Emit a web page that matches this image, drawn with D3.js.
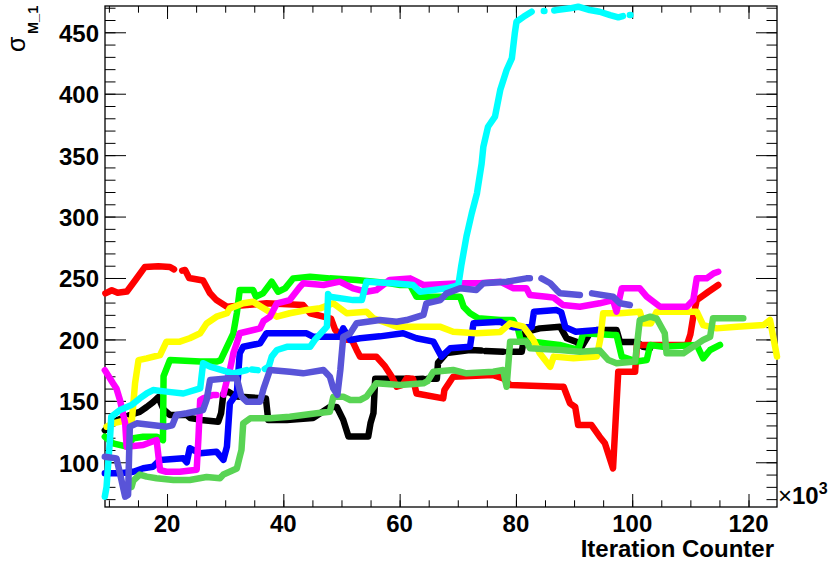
<!DOCTYPE html>
<html>
<head>
<meta charset="utf-8">
<script src="https://cdn.jsdelivr.net/npm/d3@7"></script>
<style>
  body { margin: 0; background: #ffffff; }
  text { font-family: "Liberation Sans", Arial, Helvetica, sans-serif; }
</style>
</head>
<body>
<svg id="chart" width="829" height="562"></svg>
<script>
// Axis ranges and tick values (iteration counter in units of 10^3)
const xDomain = [9.33, 124.9];
const yDomain = [63.6, 471.4];
const xMajorTicks = [20, 40, 60, 80, 100, 120];
const xMinorTicks = d3.range(10, 125, 5);
const yMajorTicks = [100, 150, 200, 250, 300, 350, 400, 450];
const yMinorTicks = d3.range(70, 471, 10);

// One trace per chain: [iteration (x10^3), sigma_M_1]; null marks a gap in the sampled points
const traceBlack = [[9.3,126],[10.2,130],[11.3,134],[13.6,138.5],[15.3,141],[16.5,145],[17.6,149],[18.5,153],[19.4,143],[20.5,138.5],[23.4,138.5],[24,136],[25.9,134.5],[28.8,133],[29.3,140],[29.7,156],[30.5,157.5],[31.4,155],[32,153.5],[37,152],[37.4,134.5],[40.6,134.5],[45.1,136],[48,145],[49.2,145],[50.3,134.5],[51.2,121],[54.6,121],[55,132],[55.5,140],[55.8,168],[58.4,168],null,[59.3,168],[61.6,168],null,[62.4,167.5],[64,168],null,[64.8,168],[66.4,168],[66.6,181],[68.1,189],[72.1,191.4],[74,191],null,[74.8,190.5],[77.8,190],null,[78.6,190],[81,190],[81.3,198],[81.6,206],[84.1,209],[87.6,210.4],[88.7,201],[90.4,198],[91.3,194],[92.7,205],[93.9,207.7],[97.3,207.7],[97.9,198],[100.8,198],[101.9,194],[103.1,193]];

const traceRed = [[9.4,237.5],[10.5,240],[11.5,238],[13.1,239],[14.5,248],[16.2,259],[18.5,259.5],[20.5,259],[21.2,257],null,[22.6,256],[23.1,256.5],[23.8,250],[26.2,248],[27.4,237.5],[28.5,232],[30.3,226.6],[33.7,228],[37.1,229.4],[43.4,228],[44.6,221.3],[46.9,218.5],[48.2,217],[48.9,208],[50.3,200],[51.8,199.5],[52.6,191.4],[53.2,186],[56,186],[57.5,178],[58.6,170],[59.5,161.5],[60.5,163],[61.2,168.3],[62.3,168],[62.9,156],[67.5,152],[67.7,158.8],[69.2,169.7],[76.1,171],[77.8,168.3],[79,163],[87.6,161.5],[88.2,161.5],[89.3,148],[90.2,145],[90.7,130.3],[93,130.3],[94.4,120.8],[95.3,115.4],[96.7,95],[97.6,173.7],[100.5,173.7],[100.8,195.5],[109.4,195.5],[110,204],[110.5,218.5],[111.1,232],[113.1,238.8],[114.8,244.3]];

const traceGreen = [[9.3,120.8],[10.7,115.4],[13.1,112.7],[14.2,119.5],[15.9,120.8],[18.2,120.8],[19.3,118],[19.4,170],[20.5,183.2],[25.7,182],[28.5,182],[29.2,183],[30.3,194],[31.4,205],[32,221.3],[32.5,240.2],[34.8,240.2],[35.3,234.8],[36.5,237.5],[38,247],[39.1,238.8],[40.3,241.6],[41.7,249.7],[44.6,251.1],[48,249.7],[52.6,248.4],[58.3,245.7],[60.1,244.3],[61.8,244.3],[62.9,234.8],[70.4,234.8],[71,226.6],[72.1,221.3],[73.5,217.2],[77.3,215.8],[79.5,215.8],[80.4,207.7],[80.8,199.5],[83,198.2],[85.3,196.8],[87.5,195.5],[90.7,191.4],[91.6,205],[96.7,203.6],[97.3,203.6],[98.2,186],[100.8,182],[102.5,183.2],[103.1,195.5],[105.3,194.1],[111.1,195.5],[112.2,184.6],[113.4,191.4],[115.1,195.5]];

const traceBlue = [[9.3,91],[11.9,91],[14.2,92.3],[15.9,95.1],[17.6,96.4],[18.8,101.9],[22.8,103.2],[23.4,100],[23.9,111.4],[25.7,107.3],[28.5,108.6],[29.7,102],[30.3,112.7],[30.8,148],[32,156],[32.5,188.7],[33.1,194],[36,196.8],[37.1,205],[44,205],[45.1,202.2],[49.7,202.2],[50.3,209],[51.5,199.5],[53.2,201],[56.6,202.5],[60.6,205],[62.9,201],[65.8,198.2],[67.2,186],[68.7,192.8],[72.1,194.1],[72.7,213.1],[77.3,214.4],[78.4,211.7],[79.5,210],[82.7,210],[83.1,222.6],[87,223.9],[87.8,222],[88.5,210],[90.3,206.3],[94.2,207.7]];

const traceYellow = [[9.6,129],[10.7,131.7],[13.05,134.4],[13.9,131],[14.5,164.3],[15.1,183.2],[16.5,184.6],[18.8,187.3],[19.9,198.2],[22.2,198.2],[23.9,201],[25.7,205],[26.8,213],[28.5,218.5],[30.3,221.3],[30.8,225.3],[33.1,229.4],[34.8,230.7],[36.6,225.3],[38,221.3],[38.9,218.5],[41.1,221.3],[44,224],[46.3,225.3],[48.6,229.4],[50.9,221.3],[54.3,222.6],[55.5,217.2],[59.5,210.4],[66.9,210.4],[69.2,206.3],[73.2,205],[77.3,206],[79,213.1],[81.3,210.4],[83,199.5],[84.1,188.7],[85.9,177.8],[86.5,186],[89.9,184.6],[93.9,186],[94.5,200],[95,221.3],[97.9,221.3],[101.3,222.6],[101.9,213.1],[103.2,213],[104.2,222.6],[111.1,222.6],[112.2,211.7],[114.5,209],[118,210.4],[122.6,211.7],[123.7,215.8],[124.9,186]];

const traceMagenta = [[9.3,175],[10.7,164.3],[11.3,160],[11.9,150.7],[12.8,131.7],[13.05,112.7],[15.9,114],[18.2,118.1],[18.8,93.7],[19.9,92.3],[22.2,92.3],[25.1,94],[25.4,120],[25.7,150.7],[26.2,152],[27.9,154.8],[28.5,154.8],null,[29.7,155],[30.3,167],[30.8,175],[31.4,188.7],[32,197],[32.5,205],[36,209],[36.6,215],[37.7,218.5],[38.9,229.4],[41.1,232],[42.9,243],[43.4,245.7],[46.9,244.3],[49.7,247],[52,241.6],[54.3,238.8],[56,240.2],[58.3,248.4],[61.8,249.7],[64.1,244.3],[67,245],[70.4,245.7],[73.8,245.7],[77.3,247],[79.6,241.6],[81.8,241.6],[82.4,236.2],[85.3,234.8],[86.5,234],[88.1,228],[91,226.6],[94.4,229.4],[96.7,232],[97.3,222.6],[98.2,241.6],[101.3,241.6],[102.5,234.8],[104.8,226.6],[109.4,226.6],[110.5,232],[111.1,249.7],[112.8,249.7],[114,253.8],[114.8,255.1]];

const traceCyan = [[9.3,72],[9.6,80],[10.2,120],[10.4,137],[11.9,142.6],[13.9,146.6],[15.3,152],[16.5,156],[17.6,158.8],[19.9,157.5],[22.8,156],[25.7,160.2],[26.2,180.6],[27.4,177.8],[30.3,173.7],[31.4,172.4],[33.7,175],null,[34.6,175.5],[35.6,175],null,[36.8,176],[37.5,178],[38,186],[38.9,191.4],[40.6,194],[44.6,194],[45.4,199.5],[47.5,210.4],[47.7,237],[48,234.8],[52,232],[53.5,232],[54.3,247],[58.9,245.7],[62.3,244.3],[63.5,238.8],[68.1,241.6],[69.2,242.9],[70.1,244.3],[70.6,260],[71.5,284],[72.4,302.6],[73.3,318.9],[74.1,343],[74.4,356.9],[75.2,373.1],[76.4,381.3],[77.3,403],[78.4,419.3],[79.3,428.8],[79.8,449],[80.1,458.6],[81.3,462.6],[82.7,466.7],null,[84.8,467.3],[84.9,467.3],null,[86.6,467.8],[87,468.1],[89.3,469.5],[90.7,470.8],[92.7,468.1],[94.4,466.7],[96.2,464],[97.6,462.2],[98.4,463.2],null,[99.6,464],[99.7,464]];

const traceLightGreen = [[12.6,78],[13.9,80],[14.2,85],[15.3,90],[16.5,88.3],[18.2,87],[21.1,85.6],[23.9,85.6],[26.8,88],[29.1,87],[29.7,90],[32,95],[32.5,104.5],[32.8,110],[33.1,131.7],[34.3,135.8],[37.7,135.8],[41.1,137.1],[45.7,139.9],[48,141.2],[48.6,153.4],[50.3,153.4],[51.5,150.7],[53.2,150.7],[54.3,153.4],[56,164.3],[60.1,162.9],[64.1,164.3],[64.8,166],[65.8,173.7],[69.2,175.1],[71.5,172.4],[76.1,173.7],[77.8,175.1],[78.4,161.5],[79,198.2],[81.8,198.2],[82.4,192.8],[87.6,191.4],[91,190],[94.4,191],[95.9,183.2],[97.3,180.6],[100.5,182],[101.3,215.8],[103.1,218.5],[104.2,217],[105.6,205],[105.9,188.7],[108.8,188.7],[110.5,194.1],[112.2,199.5],[113.4,202.2],[113.9,217.2],[116.2,217.2],[119.1,217.2]];

const traceSlate = [[9.3,104.5],[11.3,103.2],[11.9,91],[12.8,72],[13.3,73.4],[13.6,129],[14.8,131.7],[19.9,129],[20.9,130],[21.6,138.5],[23.4,139.9],[26.2,142.6],[26.8,150.7],[27.4,167],[30.3,168.3],[32,168.3],[32.8,153.4],[33.7,149.3],[36,149.3],[36.6,160],[37.7,175.1],[41.1,173.7],[43.4,172.4],[46.9,175.1],[48,169.7],[48.6,160],[49.3,155],[49.8,175],[50.3,202],[51.5,205],[52.6,213.1],[56.6,215.8],[59.5,214.4],[61.2,215.8],[64.1,219.9],[64.6,229.4],[67,232],[68.1,237.5],[70.4,241.6],[73.2,240.2],[74.4,245.7],[78.4,247],[81.8,249.7],[82.4,249.7],null,[84.4,249.7],[85.9,245.7],[87,240.2],[87.6,237.5],[91,236.2],null,[93.1,237.5],[96.7,234.8],[97.9,229.4],[99.6,228]];

const traceColors = ["#000000", "#ff0000", "#00ff00", "#0000ff", "#ffff00", "#ff00ff", "#00ffff", "#59d454", "#5954d8"];
const traces = [traceBlack, traceRed, traceGreen, traceBlue, traceYellow, traceMagenta, traceCyan, traceLightGreen, traceSlate];

// Frame geometry
const frame = { left: 105, top: 6, right: 777, bottom: 507 };

const svg = d3.select("#chart");
svg.append("rect").attr("width", 829).attr("height", 562).attr("fill", "#ffffff");

const x = d3.scaleLinear().domain(xDomain).range([frame.left, frame.right]);
const y = d3.scaleLinear().domain(yDomain).range([frame.bottom, frame.top]);

function tickAxis(gen, tx, ty, values, size) {
  const g = svg.append("g")
    .attr("transform", `translate(${tx},${ty})`)
    .call(gen.tickValues(values).tickSize(size).tickSizeOuter(0).tickFormat(""));
  g.select(".domain").remove();
  g.selectAll("line").attr("stroke", "#000").attr("stroke-width", 1);
  return g;
}

// Ticks on all four sides, pointing into the frame
tickAxis(d3.axisRight(y), frame.left, 0, yMinorTicks, 10.5);
tickAxis(d3.axisRight(y), frame.left, 0, yMajorTicks, 21);
tickAxis(d3.axisLeft(y), frame.right, 0, yMinorTicks, 10.5);
tickAxis(d3.axisLeft(y), frame.right, 0, yMajorTicks, 21);
tickAxis(d3.axisTop(x), 0, frame.bottom, xMinorTicks, 6.7);
tickAxis(d3.axisTop(x), 0, frame.bottom, xMajorTicks, 13);
tickAxis(d3.axisBottom(x), 0, frame.top, xMinorTicks, 6.7);
tickAxis(d3.axisBottom(x), 0, frame.top, xMajorTicks, 13);

svg.append("rect")
  .attr("x", frame.left).attr("y", frame.top)
  .attr("width", frame.right - frame.left).attr("height", frame.bottom - frame.top)
  .attr("fill", "none").attr("stroke", "#000").attr("stroke-width", 1.3);

// Tick labels
svg.append("g").selectAll("text").data(yMajorTicks).join("text")
  .attr("x", frame.left - 6).attr("y", d => y(d) + 9.5)
  .attr("text-anchor", "end").attr("font-size", 24).attr("font-weight", "bold")
  .text(d => d);

svg.append("g").selectAll("text").data(xMajorTicks).join("text")
  .attr("x", d => x(d)).attr("y", 532)
  .attr("text-anchor", "middle").attr("font-size", 24).attr("font-weight", "bold")
  .text(d => d);

// Axis titles
svg.append("text")
  .attr("x", 774).attr("y", 557).attr("text-anchor", "end")
  .attr("font-size", 24).attr("font-weight", "bold")
  .text("Iteration Counter");

const expo = svg.append("text").attr("x", 778).attr("y", 504).attr("font-size", 24);
expo.append("tspan").text("×");
expo.append("tspan").attr("font-weight", "bold").text("10");
expo.append("tspan").attr("font-weight", "bold").attr("font-size", 16).attr("dy", -10).text("3");

svg.append("text")
  .attr("transform", "translate(25,52) rotate(-90)")
  .attr("font-size", 25)
  .text("σ");
svg.append("text")
  .attr("transform", "translate(37.5,34) rotate(-90)")
  .attr("font-size", 14.5).attr("font-weight", "bold")
  .text("M_1");

// Traces
const line = d3.line()
  .defined(d => d !== null)
  .x(d => x(d[0]))
  .y(d => y(d[1]));

svg.append("g").selectAll("path").data(traces).join("path")
  .attr("d", line)
  .attr("fill", "none")
  .attr("stroke", (d, i) => traceColors[i])
  .attr("stroke-width", 6.5)
  .attr("stroke-linecap", "round")
  .attr("stroke-linejoin", "round");
</script>
</body>
</html>
